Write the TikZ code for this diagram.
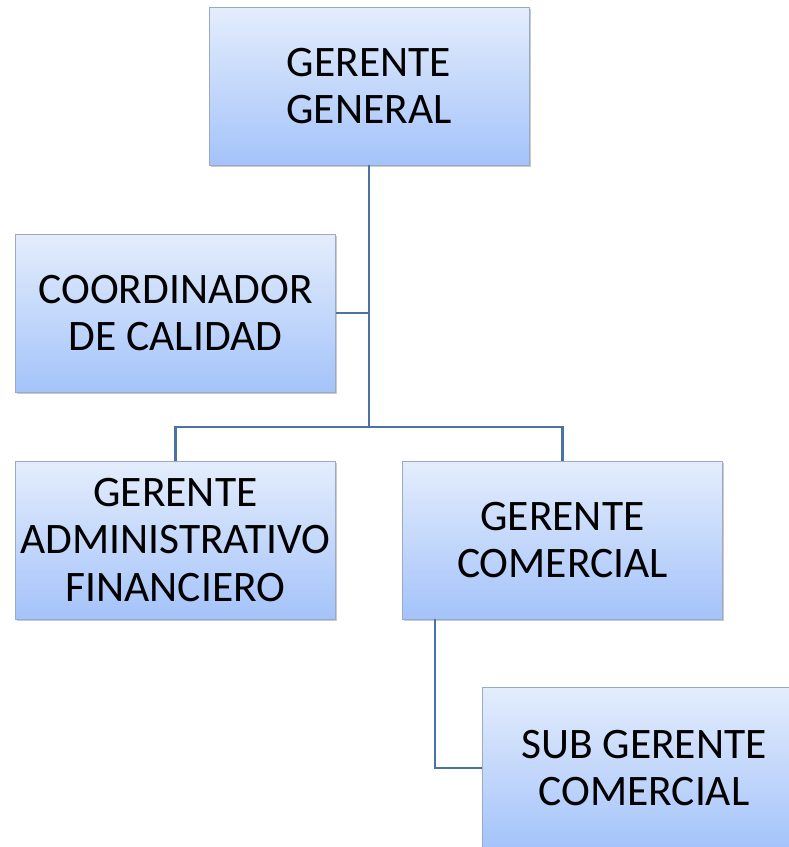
\documentclass[tikz,border=0pt]{standalone}
\usepackage{fontspec}
\setmainfont{Carlito}
\usetikzlibrary{shadows}
\definecolor{boxtop}{HTML}{E4EDFC}
\definecolor{boxbot}{HTML}{A4C3FA}
\definecolor{boxline}{HTML}{9AAAC4}
\definecolor{conn}{HTML}{4C72A5}
\tikzset{
  orgbox/.style={rectangle, draw=boxline, line width=0.8pt, top color=boxtop, bottom color=boxbot,
    minimum width=320pt, minimum height=158pt, align=center, inner sep=0pt,
    font=\fontsize{43.5}{47.5}\selectfont,
    drop shadow={shadow xshift=1.5pt, shadow yshift=-2pt, opacity=0.35, fill=black!60}},
  connector/.style={draw=conn, line width=2.3pt}
}
\begin{document}
\begin{tikzpicture}[x=1pt, y=-1pt]
\useasboundingbox (0,0) rectangle (789,847);
\node[orgbox] (GG) at (369,86) {GERENTE\\GENERAL};
\node[orgbox] (CC) at (175.5,313) {COORDINADOR\\DE CALIDAD};
\node[orgbox] (GAF) at (175.5,540) {GERENTE\\ADMINISTRATIVO\\FINANCIERO};
\node[orgbox] (GC) at (562.5,540) {GERENTE\\COMERCIAL};
\node[orgbox, minimum width=324pt, minimum height=162pt] (SGC) at (644,768) {SUB GERENTE\\COMERCIAL};
\coordinate (J) at (369,427);
\coordinate (gcd) at (435,619);
\draw[connector] (GG.south) -- (J);
\draw[connector] (CC.east) -- (CC.east -| GG.south);
\draw[connector] (GAF.north) |- (J) -| (GC.north);
\draw[connector] (gcd) |- (SGC.west);
\end{tikzpicture}
\end{document}
